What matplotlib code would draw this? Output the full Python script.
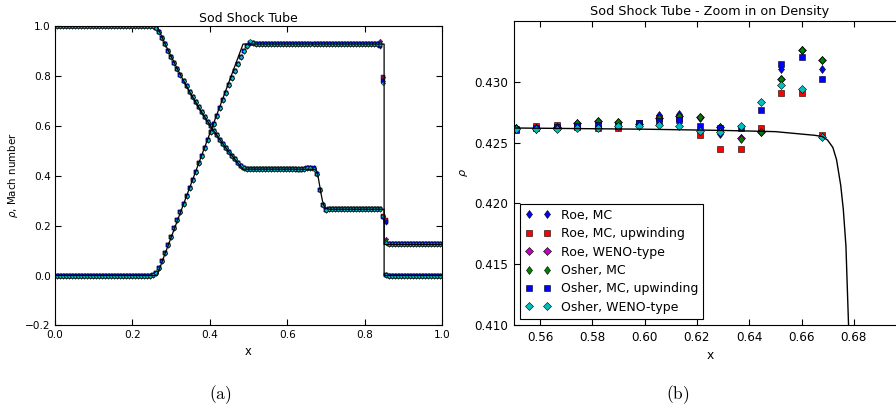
import numpy as np
import matplotlib
matplotlib.use('Agg')
import matplotlib.pyplot as plt

# numerical solution, 128 cells
n_cells = 128
x_cells = (np.arange(n_cells) + 0.5) / n_cells

rho_base = [
    1.0, 1.0, 1.0, 1.0, 1.0, 1.0, 1.0, 1.0,
    1.0, 1.0, 1.0, 1.0, 1.0, 1.0, 1.0, 1.0,
    1.0, 1.0, 1.0, 1.0, 1.0, 1.0, 1.0, 1.0,
    1.0, 1.0, 1.0, 1.0, 1.0, 1.0, 1.0, 1.0,
    0.998, 0.990, 0.975, 0.951, 0.926, 0.900, 0.875, 0.851,
    0.827, 0.803, 0.781, 0.758, 0.736, 0.715, 0.694, 0.674,
    0.654, 0.635, 0.616, 0.598, 0.579, 0.562, 0.545, 0.528,
    0.512, 0.496, 0.481, 0.466, 0.452, 0.440, 0.431, 0.427,
    0.4263, 0.4262, 0.4262, 0.4262, 0.4262, 0.4262, 0.4262, 0.4262,
    0.4262, 0.4262, 0.4262, 0.4262, 0.4262, 0.4262, 0.4262, 0.4262,
    0.4262, 0.4262, 0.4262, 0.4262, 0.4262, 0.4262, 0.407, 0.343,
    0.283, 0.264, 0.2656, 0.2656, 0.2656, 0.2656, 0.2656, 0.2656,
    0.2656, 0.2656, 0.2656, 0.2656, 0.2656, 0.2656, 0.2656, 0.2656,
    0.2656, 0.2656, 0.2656, 0.2656, 0.237, 0.130, 0.125, 0.125,
    0.125, 0.125, 0.125, 0.125, 0.125, 0.125, 0.125, 0.125,
    0.125, 0.125, 0.125, 0.125, 0.125, 0.125, 0.125, 0.125,
]

u_base = [
    0.0, 0.0, 0.0, 0.0, 0.0, 0.0, 0.0, 0.0,
    0.0, 0.0, 0.0, 0.0, 0.0, 0.0, 0.0, 0.0,
    0.0, 0.0, 0.0, 0.0, 0.0, 0.0, 0.0, 0.0,
    0.0, 0.0, 0.0, 0.0, 0.0, 0.0, 0.0, 0.0,
    0.002, 0.010, 0.030, 0.059, 0.091, 0.123, 0.156, 0.189,
    0.221, 0.254, 0.286, 0.319, 0.351, 0.384, 0.416, 0.449,
    0.481, 0.513, 0.545, 0.577, 0.609, 0.640, 0.671, 0.702,
    0.732, 0.762, 0.791, 0.820, 0.848, 0.875, 0.900, 0.920,
    0.932, 0.930, 0.928, 0.928, 0.928, 0.928, 0.928, 0.928,
    0.928, 0.928, 0.928, 0.928, 0.928, 0.928, 0.928, 0.928,
    0.928, 0.928, 0.928, 0.928, 0.928, 0.928, 0.928, 0.928,
    0.928, 0.928, 0.928, 0.928, 0.928, 0.928, 0.928, 0.928,
    0.928, 0.928, 0.928, 0.928, 0.928, 0.928, 0.928, 0.928,
    0.928, 0.928, 0.928, 0.928, 0.785, 0.003, 0.0, 0.0,
    0.0, 0.0, 0.0, 0.0, 0.0, 0.0, 0.0, 0.0,
    0.0, 0.0, 0.0, 0.0, 0.0, 0.0, 0.0, 0.0,
]

labels = ['Roe, MC', 'Roe, MC, upwinding', 'Roe, WENO-type',
          'Osher, MC', 'Osher, MC, upwinding', 'Osher, WENO-type']
markers = ['d', 's', 'D', 'd', 's', 'D']
colors = ['b', 'r', 'm', 'g', 'b', 'c']

# density in cells 70..85 (zoom window)
zoom_first = 70
rho_roe_mc = [0.4262, 0.4261, 0.4262, 0.4265, 0.4266, 0.4266, 0.4265, 0.42725,
              0.42733, 0.4270, 0.42569, 0.4254, 0.4260, 0.43102, 0.4326, 0.43102]
rho_roe_up = [0.4261, 0.42637, 0.42648, 0.4263, 0.4262, 0.4262, 0.42657, 0.42703,
              0.4270, 0.42566, 0.42448, 0.42448, 0.42621, 0.42909, 0.42904, 0.4256]
rho_roe_weno = [0.4262, 0.4262, 0.4263, 0.42664, 0.4268, 0.4267, 0.4265, 0.4270,
                0.42719, 0.42714, 0.42631, 0.42535, 0.42590, 0.43021, 0.43263, 0.43178]
rho_osher_mc = [0.4262, 0.4262, 0.4263, 0.42662, 0.42678, 0.42668, 0.4265, 0.4270,
                0.42717, 0.42712, 0.42629, 0.42533, 0.42588, 0.43019, 0.43261, 0.43176]
rho_osher_up = [0.4260, 0.4262, 0.4263, 0.42635, 0.42643, 0.4264, 0.42657, 0.42679,
                0.42684, 0.4264, 0.4262, 0.42618, 0.42772, 0.43143, 0.43206, 0.43019]
rho_osher_weno = [0.4261, 0.4261, 0.42615, 0.4262, 0.4262, 0.42635, 0.4264, 0.42646,
                  0.42637, 0.42596, 0.42588, 0.42635, 0.42835, 0.42975, 0.4294, 0.42547]
rho_zoom = [rho_roe_mc, rho_roe_up, rho_roe_weno,
            rho_osher_mc, rho_osher_up, rho_osher_weno]

# cells around the shock / rarefaction tail, one value per scheme
rho_c108 = [0.236, 0.238, 0.240, 0.236, 0.235, 0.237]
rho_c109 = [0.215, 0.222, 0.147, 0.140, 0.215, 0.130]
u_c64 = [0.932, 0.932, 0.932, 0.932, 0.932, 0.941]
u_c107 = [0.918, 0.928, 0.940, 0.930, 0.918, 0.928]
u_c108 = [0.780, 0.795, 0.795, 0.780, 0.780, 0.770]

# reference solution
ref_x = [0.0, 0.2634, 0.29, 0.32, 0.35, 0.38, 0.41, 0.44, 0.47, 0.4859,
         0.55, 0.60, 0.63, 0.65, 0.66, 0.665, 0.668, 0.670, 0.672, 0.6734,
         0.675, 0.676, 0.677, 0.678, 0.680, 0.683, 0.6855, 0.688, 0.691,
         0.695, 0.700, 0.710, 0.8504, 0.8504, 1.0]
ref_rho = [1.0, 1.0, 0.9097, 0.8158, 0.7300, 0.6514, 0.5798, 0.5146, 0.4555, 0.4263,
           0.4262, 0.4261, 0.4260, 0.4259, 0.4257, 0.4256, 0.4255, 0.4252, 0.4246, 0.4236,
           0.4215, 0.4195, 0.4165, 0.4100, 0.395, 0.368, 0.346, 0.324, 0.300,
           0.280, 0.269, 0.2656, 0.2656, 0.125, 0.125]
ref_ux = [0.0, 0.2634, 0.4859, 0.8504, 0.8504, 1.0]
ref_u = [0.0, 0.0, 0.9275, 0.9275, 0.0, 0.0]


def scheme_profiles(k):
    rho = np.array(rho_base, dtype=float)
    u = np.array(u_base, dtype=float)
    rho[zoom_first:zoom_first + len(rho_zoom[k])] = rho_zoom[k]
    rho[108] = rho_c108[k]
    rho[109] = rho_c109[k]
    u[64] = u_c64[k]
    u[107] = u_c107[k]
    u[108] = u_c108[k]
    return rho, u


fig = plt.figure(figsize=(8.96, 4.09), dpi=100)
fig.patch.set_facecolor('white')

# (a) full domain
ax1 = fig.add_axes([0.0614, 0.2042, 0.4319, 0.7323])
small = {'d': 2.8, 's': 2.4, 'D': 2.3}
for k in range(6):
    rho, u = scheme_profiles(k)
    for y in (rho, u):
        ax1.plot(x_cells, y, linestyle='none', marker=markers[k], color=colors[k],
                 ms=small[markers[k]], mec='k', mew=0.3)
ax1.plot(ref_x, ref_rho, 'k-', lw=0.9)
ax1.plot(ref_ux, ref_u, 'k-', lw=0.9)
ax1.set_xlim(0, 1)
ax1.set_ylim(-0.2, 1.0)
ax1.set_xticks([0.0, 0.2, 0.4, 0.6, 0.8, 1.0])
ax1.set_yticks([-0.2, 0.0, 0.2, 0.4, 0.6, 0.8, 1.0])
ax1.set_title('Sod Shock Tube', fontsize=9, pad=3)
ax1.set_xlabel('x', fontsize=8.3, labelpad=4)
ax1.set_ylabel(r'$\rho$, Mach number', fontsize=7.4, labelpad=4)
ax1.tick_params(direction='in', top=True, right=True, labelsize=7.6, length=4, pad=3)

# (b) zoom on density
ax2 = fig.add_axes([0.5737, 0.2054, 0.4375, 0.7433])
big = {'d': 4.4, 's': 4.3, 'D': 4.2}
x_zoom = x_cells[zoom_first:zoom_first + len(rho_zoom[0])]
for k in range(6):
    ax2.plot(x_zoom, rho_zoom[k], linestyle='none', marker=markers[k], color=colors[k],
             ms=big[markers[k]], mec='k', mew=0.4, label=labels[k])
ax2.plot(ref_x, ref_rho, 'k-', lw=1.0)
ax2.set_xlim(0.55, 0.70)
ax2.set_ylim(0.41, 0.435)
ax2.set_xticks([0.56, 0.58, 0.60, 0.62, 0.64, 0.66, 0.68])
ax2.set_yticks([0.410, 0.415, 0.420, 0.425, 0.430])
ax2.set_title('Sod Shock Tube - Zoom in on Density', fontsize=9.2, pad=4)
ax2.set_xlabel('x', fontsize=8.8, labelpad=4)
ax2.set_ylabel(r'$\rho$', fontsize=8, labelpad=3)
ax2.tick_params(direction='in', top=True, right=True, labelsize=8.6, length=4, pad=4)
leg = ax2.legend(loc='lower left', numpoints=2, fontsize=9.0, fancybox=False,
                 edgecolor='k', framealpha=1, handlelength=2.02,
                 handletextpad=0.8, labelspacing=0.43, borderpad=0.4)
leg.get_frame().set_linewidth(0.8)

fig.text(220 / 896, 1 - 395 / 409, r'$\mathrm{(a)}$', fontsize=12.5,
         math_fontfamily='cm', ha='center', va='center')
fig.text(678 / 896, 1 - 395 / 409, r'$\mathrm{(b)}$', fontsize=12.5,
         math_fontfamily='cm', ha='center', va='center')

fig.savefig('out.png', dpi=100)
